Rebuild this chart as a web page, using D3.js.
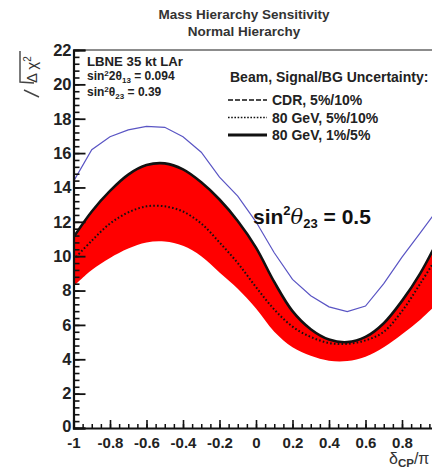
<!DOCTYPE html>
<html>
<head>
<meta charset="utf-8">
<script src="https://cdn.jsdelivr.net/npm/d3@7/dist/d3.min.js"></script>
<style>
  html, body { margin: 0; padding: 0; background: #fff; }
  svg { display: block; }
  text { font-family: "Liberation Sans", Arial, sans-serif; }
</style>
</head>
<body>
<svg id="chart" width="432" height="470"></svg>
<script>
// delta_CP / pi sampling points
const deltaCP = [-1.0, -0.9, -0.8, -0.7, -0.6, -0.5, -0.4, -0.3, -0.2, -0.1,
                  0.0, 0.1, 0.2, 0.3, 0.4, 0.5, 0.6, 0.7, 0.8, 0.9, 1.0];

// sqrt(dchi2), sin^2 theta23 = 0.5 (thin blue line)
const sqrtChi2Theta05 = [14.35, 16.2, 16.95, 17.35, 17.55, 17.5, 16.95, 16.05, 14.6, 13.5,
                         12.0, 10.2, 8.65, 7.7, 7.05, 6.77, 7.1, 8.4, 9.95, 11.35, 12.8];
// 80 GeV, 1%/5% (solid, upper edge of band)
const sqrtChi2Solid = [11.1, 12.6, 13.8, 14.75, 15.3, 15.4, 15.05, 14.3, 13.3, 12.05,
                       10.5, 8.5, 6.8, 5.75, 5.15, 5.0, 5.3, 6.1, 7.4, 9.0, 11.0];
// 80 GeV, 5%/10% (dotted)
const sqrtChi2Dotted = [9.8, 10.9, 11.9, 12.55, 12.9, 12.9, 12.6, 11.9, 10.8, 9.6,
                        8.2, 6.9, 5.9, 5.3, 4.95, 4.9, 5.1, 5.6, 6.8, 8.4, 10.1];
// CDR, 5%/10% (lower edge of band)
const sqrtChi2Lower = [8.25, 9.2, 9.9, 10.45, 10.8, 10.85, 10.6, 10.0, 9.05, 8.1,
                       6.95, 5.6, 4.7, 4.2, 3.92, 3.9, 4.15, 4.7, 5.45, 6.3, 7.3];

const xTickValues = [-1, -0.8, -0.6, -0.4, -0.2, 0, 0.2, 0.4, 0.6, 0.8, 1];
const xTickLabels = ["-1", "-0.8", "-0.6", "-0.4", "-0.2", "0", "0.2", "0.4", "0.6", "0.8", ""];
const yTickValues = [0, 2, 4, 6, 8, 10, 12, 14, 16, 18, 20, 22];

const titleLines = ["Mass Hierarchy Sensitivity", "Normal Hierarchy"];
const legendTitle = "Beam, Signal/BG Uncertainty:";
const legendLabels = ["CDR, 5%/10%", "80 GeV, 5%/10%", "80 GeV, 1%/5%"];

const svg = d3.select("#chart");

const x = d3.scaleLinear().domain([-1, 1]).range([73.5, 438.5]);
const y = d3.scaleLinear().domain([0, 22]).range([428, 50]);

// plot area clip
svg.append("defs").append("clipPath").attr("id", "plotclip")
  .append("rect").attr("x", x(-1)).attr("y", y(22))
  .attr("width", x(1) - x(-1)).attr("height", y(0) - y(22));

const plot = svg.append("g").attr("clip-path", "url(#plotclip)");
const pts = arr => deltaCP.map((d, i) => [d, arr[i]]);

const band = deltaCP.map((d, i) => ({ d, lo: sqrtChi2Lower[i], hi: sqrtChi2Solid[i] }));
plot.append("path")
  .datum(band)
  .attr("fill", "#ff0000")
  .attr("d", d3.area().curve(d3.curveCatmullRom)
    .x(p => x(p.d)).y0(p => y(p.lo)).y1(p => y(p.hi)));

const smooth = d3.line().curve(d3.curveCatmullRom).x(p => x(p[0])).y(p => y(p[1]));

plot.append("path").datum(pts(sqrtChi2Dotted))
  .attr("fill", "none").attr("stroke", "#111").attr("stroke-width", 2)
  .attr("stroke-dasharray", "1.6,2.2").attr("d", smooth);

plot.append("path").datum(pts(sqrtChi2Solid))
  .attr("fill", "none").attr("stroke", "#111").attr("stroke-width", 2.6)
  .attr("d", smooth);

plot.append("path").datum(pts(sqrtChi2Theta05))
  .attr("fill", "none").attr("stroke", "#5a55c4").attr("stroke-width", 1.2)
  .attr("d", d3.line().x(p => x(p[0])).y(p => y(p[1])));

// frame
svg.append("line").attr("x1", x(-1)).attr("x2", x(1)).attr("y1", y(22)).attr("y2", y(22))
  .attr("stroke", "#666").attr("stroke-width", 1.3);
svg.append("line").attr("x1", x(1)).attr("x2", x(1)).attr("y1", y(22)).attr("y2", y(0))
  .attr("stroke", "#666").attr("stroke-width", 1.3);

// y axis: major + minor ticks drawn inward
const yMinor = d3.range(0, 22.001, 0.4).map(v => +v.toFixed(1));
svg.append("g").attr("transform", `translate(${x(-1)},0)`)
  .call(d3.axisLeft(y).tickValues(yMinor).tickSize(-6).tickFormat(""))
  .call(g => g.select(".domain").remove())
  .call(g => g.selectAll("line").attr("stroke", "#111").attr("stroke-width", 1.6));
const yAxis = svg.append("g").attr("transform", `translate(${x(-1)},0)`)
  .call(d3.axisLeft(y).tickValues(yTickValues).tickSize(-12).tickPadding(2)
    .tickFormat(d3.format("d")));
yAxis.selectAll("line").attr("stroke", "#111").attr("stroke-width", 1.8);
yAxis.select(".domain").attr("stroke", "#111").attr("stroke-width", 2.2);
yAxis.selectAll("text").attr("font-size", 16.5).attr("font-weight", "bold").attr("fill", "#222")
  .attr("dy", d => d === 0 ? "0.2em" : "0.32em");

// x axis
const xMinor = d3.range(-1, 1.0001, 0.05).map(v => +v.toFixed(2));
svg.append("g").attr("transform", `translate(0,${y(0)})`)
  .call(d3.axisBottom(x).tickValues(xMinor).tickSize(-4).tickFormat(""))
  .call(g => g.select(".domain").remove())
  .call(g => g.selectAll("line").attr("stroke", "#111").attr("stroke-width", 1.5));
const xAxis = svg.append("g").attr("transform", `translate(0,${y(0)})`)
  .call(d3.axisBottom(x).tickValues(xTickValues).tickSize(-8).tickPadding(9)
    .tickFormat((d, i) => xTickLabels[i]));
xAxis.selectAll("line").attr("stroke", "#111").attr("stroke-width", 1.6);
xAxis.select(".domain").attr("stroke", "#111").attr("stroke-width", 2.2);
xAxis.selectAll("text").attr("font-size", 15).attr("font-weight", "bold").attr("fill", "#222");

// x axis title: delta_CP / pi (runs past the right edge)
const xt = svg.append("text").attr("x", 389).attr("y", 464)
  .attr("font-size", 16).attr("fill", "#333");
xt.append("tspan").text("δ");
xt.append("tspan").attr("dy", 3).attr("font-size", 11.5).attr("font-weight", "bold").text("CP");
xt.append("tspan").attr("dy", -3).text("/π");

// y axis title: sqrt(Delta chi^2), rotated
const yt = svg.append("text").attr("transform", "translate(37,83) rotate(-90)")
  .attr("font-size", 15).attr("fill", "#333");
yt.append("tspan").text("Δ χ");
yt.append("tspan").attr("dy", -6).attr("font-size", 10).text("2");
svg.append("path").attr("d", "M20,51 V82 L34,83 M24,90 L39,97")
  .attr("fill", "none").attr("stroke", "#444").attr("stroke-width", 1.4);

// title
svg.selectAll("text.title").data(titleLines).join("text")
  .attr("class", "title")
  .attr("x", 244).attr("y", (d, i) => 19 + i * 17)
  .attr("text-anchor", "middle").attr("font-size", 13.5).attr("font-weight", "bold")
  .attr("fill", "#333").text(d => d);

// experiment / parameter box
const info = svg.append("g").attr("font-weight", "bold").attr("fill", "#222");
info.append("text").attr("x", 87).attr("y", 66).attr("font-size", 13.2).text("LBNE 35 kt LAr");
const s13 = info.append("text").attr("x", 87).attr("y", 80).attr("font-size", 12);
s13.append("tspan").text("sin");
s13.append("tspan").attr("dy", -4).attr("font-size", 8).text("2");
s13.append("tspan").attr("dy", 4).text("2θ");
s13.append("tspan").attr("dy", 3).attr("font-size", 8).text("13");
s13.append("tspan").attr("dy", -3).text(" = 0.094");
const s23 = info.append("text").attr("x", 87).attr("y", 96).attr("font-size", 12);
s23.append("tspan").text("sin");
s23.append("tspan").attr("dy", -4).attr("font-size", 8).text("2");
s23.append("tspan").attr("dy", 4).text("θ");
s23.append("tspan").attr("dy", 3).attr("font-size", 8).text("23");
s23.append("tspan").attr("dy", -3).text(" = 0.39");

// legend
const leg = svg.append("g").attr("font-weight", "bold").attr("fill", "#222");
leg.append("text").attr("x", 230).attr("y", 82).attr("font-size", 14).text(legendTitle);
const legendDash = ["5,2", "1.6,1.6", null];
const legendWidth = [1.6, 1.6, 2.8];
legendLabels.forEach((lab, i) => {
  const yy = 100 + i * 17.5;
  const ln = leg.append("line").attr("x1", 228).attr("x2", 267).attr("y1", yy).attr("y2", yy)
    .attr("stroke", "#111").attr("stroke-width", legendWidth[i]);
  if (legendDash[i]) ln.attr("stroke-dasharray", legendDash[i]);
  leg.append("text").attr("x", 272).attr("y", yy + 5).attr("font-size", 14).text(lab);
});

// annotation for sin^2 theta23 = 0.5 curve
const ann = svg.append("text").attr("x", 253).attr("y", 224)
  .attr("font-family", "'Open Sans', sans-serif").attr("font-size", 21)
  .attr("font-weight", "bold").attr("fill", "#111");
ann.append("tspan").text("sin");
ann.append("tspan").attr("dy", -9).attr("font-size", 13).text("2");
ann.append("tspan").attr("dy", 9).attr("font-style", "italic").attr("font-weight", "normal")
  .attr("font-family", "'DejaVu Serif', serif").text("θ");
ann.append("tspan").attr("dy", 4).attr("font-size", 13).text("23");
ann.append("tspan").attr("dy", -4).text(" = 0.5");
</script>
</body>
</html>
